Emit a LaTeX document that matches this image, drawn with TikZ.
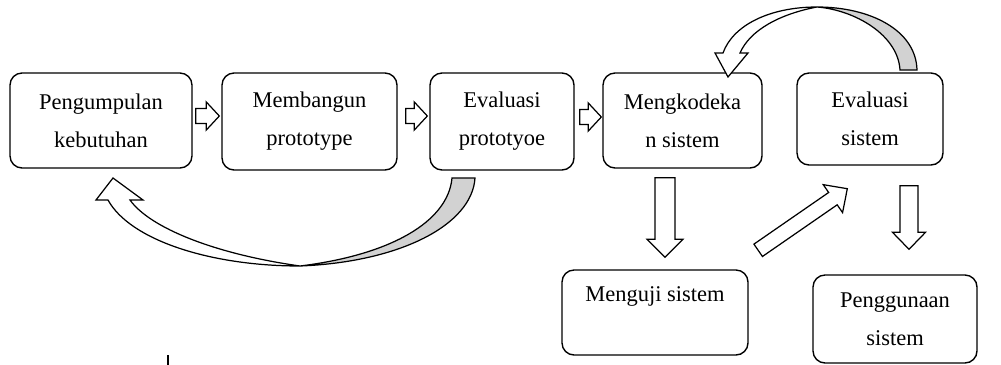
\documentclass[tikz,border=0pt]{standalone}
\usepackage{fontspec}
\setmainfont{Liberation Serif}
\usetikzlibrary{calc}

\tikzset{
  box/.style={draw, rounded corners=0.24cm, line width=0.8pt, align=center,
    font=\fontsize{12.8}{21.6}\selectfont, inner sep=0pt},
  arrowline/.style={draw, line width=0.7pt, fill=white, line join=miter},
  backside/.style={draw, line width=0.7pt, fill=gray!35},
  frontside/.style={draw, line width=0.7pt, fill=white}
}

% block arrow from #1 to #2: shaft half width, head half width, head length
\newcommand{\blockarrow}[5]{%
  \coordinate (ba-h) at ($(#2)!#5!(#1)$);
  \draw [arrowline] ($(#1)!#3!90:(#2)$) -- ($(ba-h)!#3!90:(#2)$) -- ($(ba-h)!#4!90:(#2)$)
    -- (#2) -- ($(ba-h)!#4!-90:(#2)$) -- ($(ba-h)!#3!-90:(#2)$) -- ($(#1)!#3!-90:(#2)$) -- cycle;
}

\begin{document}
\begin{tikzpicture}[x=0.02cm, y=-0.02cm]
                \useasboundingbox (0,0) rectangle (1001,365);

                \node [box, minimum width=3.64cm, minimum height=1.9cm] (kumpul) at (101,120.5) {Pengumpulan\\kebutuhan};
                \node [box, minimum width=3.5cm, minimum height=1.94cm] (bangun) at (309.5,121.5) {Membangun\\prototype};
                \node [box, minimum width=2.88cm, minimum height=1.94cm] (evalproto) at (502,121.5) {Evaluasi\\prototyoe};
                \node [box, minimum width=3.18cm, minimum height=1.9cm] (kode) at (682.5,120.5) {Mengkodeka\\n sistem};
                \node [box, minimum width=2.92cm, minimum height=1.84cm] (evalsis) at (870,119) {Evaluasi\\sistem};
                \node [box, minimum width=3.72cm, minimum height=1.7cm] (uji) at (655,312.5) {Menguji sistem\\[-0.25cm]\strut};
                \node [box, minimum width=3.28cm, minimum height=1.76cm] (guna) at (895,319) {Penggunaan\\sistem};

                \coordinate (s1) at ($(kumpul.east)+(3,-4.5)$);
                \coordinate (e1) at ($(bangun.west)+(-2,-5.5)$);
                \coordinate (s2) at ($(bangun.east)+(8,-5.5)$);
                \coordinate (e2) at ($(evalproto.west)+(-2,-5.5)$);
                \coordinate (s3) at ($(evalproto.east)+(5,-4.5)$);
                \coordinate (e3) at ($(kode.west)+(-1,-3.5)$);
                \coordinate (s4) at ($(kode.south)+(-17.5,9)$);
                \coordinate (e4) at ($(uji.north)+(10,-12)$);
                \coordinate (s5) at ($(uji.north east)+(9.5,-19)$);
                \coordinate (e5) at ($(evalsis.south west)+(51,23)$);
                \coordinate (s6) at ($(evalsis.south)+(39,20)$);
                \coordinate (e6) at ($(guna.north)+(14,-25)$);

                \blockarrow{s1}{e1}{0.15cm}{0.28cm}{0.26cm}
                \blockarrow{s2}{e2}{0.15cm}{0.28cm}{0.26cm}
                \blockarrow{s3}{e3}{0.15cm}{0.28cm}{0.26cm}
                \blockarrow{s4}{e4}{0.2cm}{0.36cm}{0.36cm}
                \blockarrow{s5}{e5}{0.15cm}{0.34cm}{0.35cm}
                \blockarrow{s6}{e6}{0.18cm}{0.33cm}{0.34cm}

                \draw [backside] (475,178) .. controls (472,225) and (400,262) .. (300,266) .. controls (390,255) and (448,222) .. (452,178) -- cycle;
                \draw [frontside] (300,266) .. controls (210,266) and (130,240) .. (108,200) -- (96,200) -- (113,178) -- (143,200) -- (130,200) .. controls (150,228) and (215,254) .. (300,266);

                \draw [backside] (917,70) .. controls (916,30) and (870,7) .. (817,7) .. controls (855,10) and (898,35) .. (900,70) -- cycle;
                \draw [frontside] (817,7) .. controls (770,7) and (733,25) .. (723,53) -- (715,53) -- (728,77) -- (748,53) -- (740,53) .. controls (750,30) and (780,14) .. (817,7);

                \draw [line width=0.8pt] (168,355) to (168,365);
            \end{tikzpicture}
\end{document}
